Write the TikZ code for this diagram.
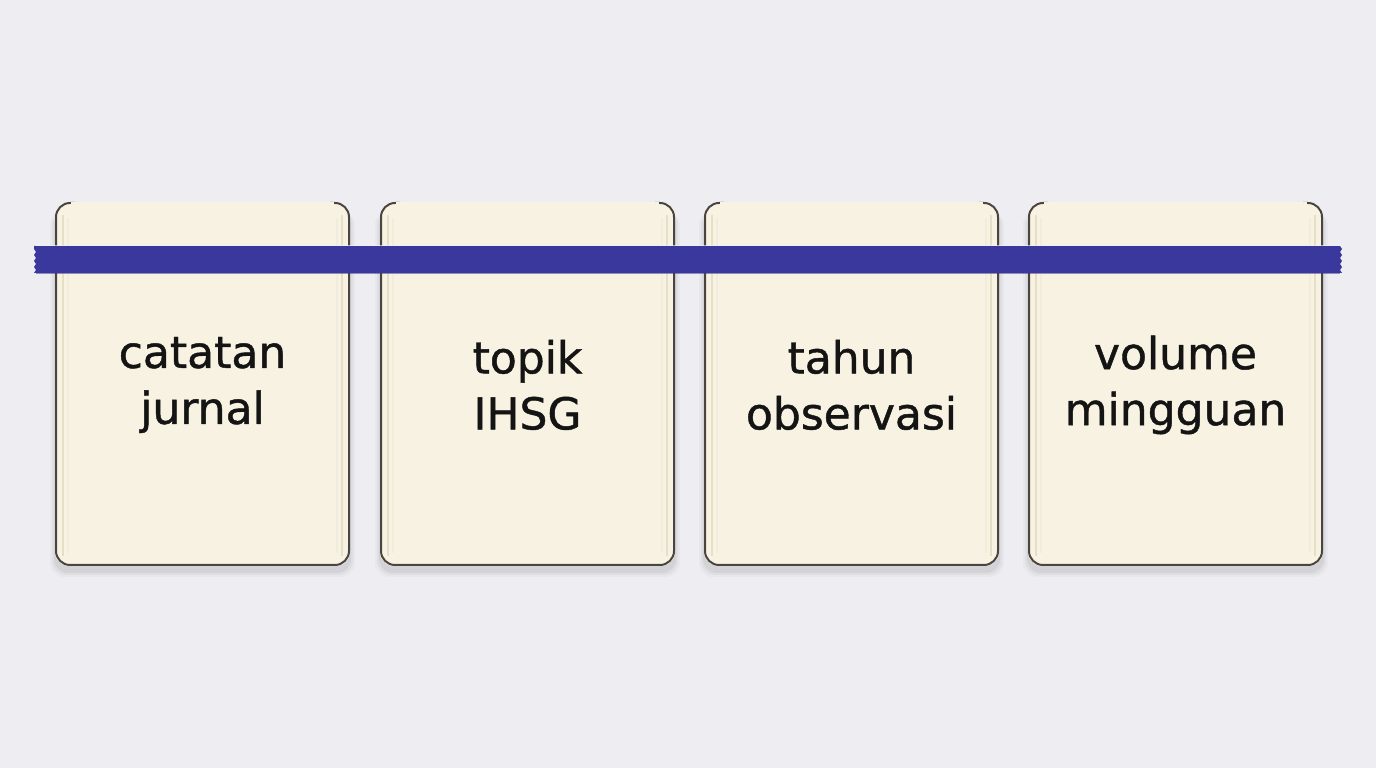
\documentclass[tikz,border=0pt]{standalone}
\usepackage{fontspec}
\setmainfont{DejaVu Sans}
\newfontfamily\cardfont[FakeBold=1.0]{DejaVu Sans}
\usetikzlibrary{calc}
\definecolor{bg}{HTML}{EEEEF2}
\definecolor{paper}{HTML}{F7F2E1}
\definecolor{paperedge}{HTML}{E6DFC8}
\definecolor{rim}{HTML}{4A4541}
\definecolor{tape}{HTML}{3A389C}
\definecolor{tapeedge}{HTML}{2E2C86}
\tikzset{
  cardbody/.style={fill=paper, draw=none, rounded corners=14pt},
  cardrim/.style={draw=rim, line width=2pt, rounded corners=14pt},
  cardshadow/.style={fill=black, rounded corners=14pt},
  cardtext/.style={align=center, font=\cardfont\fontsize{44}{56}\selectfont, text=black!92, inner sep=0pt},
  pageline/.style={draw=paperedge, line width=1.2pt},
}
\begin{document}
\begin{tikzpicture}[x=1pt,y=1pt]
\fill[bg] (0,0) rectangle (1376,768);
\useasboundingbox (0,0) rectangle (1376,768);
\foreach \x [count=\i] in {55,380,704,1028}{
  % shadow
  \foreach \s/\o in {7/0.025,5/0.035,3/0.05}{
    \fill[cardshadow, opacity=\o] (\x+2-\s,202-4-\s) rectangle (\x+293+\s,565-8);
  }
  \fill[cardbody] (\x,202) rectangle (\x+295,565);
  \draw[pageline] (\x+8,553) -- (\x+8,212);
  \draw[pageline] (\x+295-8,553) -- (\x+295-8,212);
  \draw[pageline, draw=paperedge!60] (\x+13,550) -- (\x+13,215);
  \draw[pageline, draw=paperedge!60] (\x+295-13,550) -- (\x+295-13,215);
  \draw[cardrim] (\x+20,565) -- (\x+1,565) -- (\x+1,203) -- (\x+294,203) -- (\x+294,565) -- (\x+275,565);
  \draw[paper, line width=2.6pt] (\x+16,564.8) -- (\x+279,564.8);
  \coordinate (c\i) at (\x+147.5,383);
}
\node[cardtext] (t1) at (c1) {catatan\\jurnal};
\node[cardtext] (t2) at (c2) {topik\\IHSG};
\node[cardtext] (t3) at (c3) {tahun\\observasi};
\node[cardtext] (t4) at (c4) {volume\\mingguan};
% tape
\fill[tape] (34,522) -- (1340,522) -- (1342,519) -- (1340,516) -- (1342,513) -- (1340,510) -- (1342,507) -- (1340,504) -- (1342,501) -- (1340,498) -- (1342,495) -- (34,495) -- (36,498) -- (34,501) -- (36,504) -- (34,507) -- (36,510) -- (34,513) -- (36,516) -- (34,519) -- cycle;
\draw[white, opacity=0.6, line width=0.8pt] (36,522.4) -- (1340,522.4);
\draw[tapeedge, opacity=0.5, line width=0.8pt] (36,495) -- (1340,495);
\end{tikzpicture}
\end{document}
